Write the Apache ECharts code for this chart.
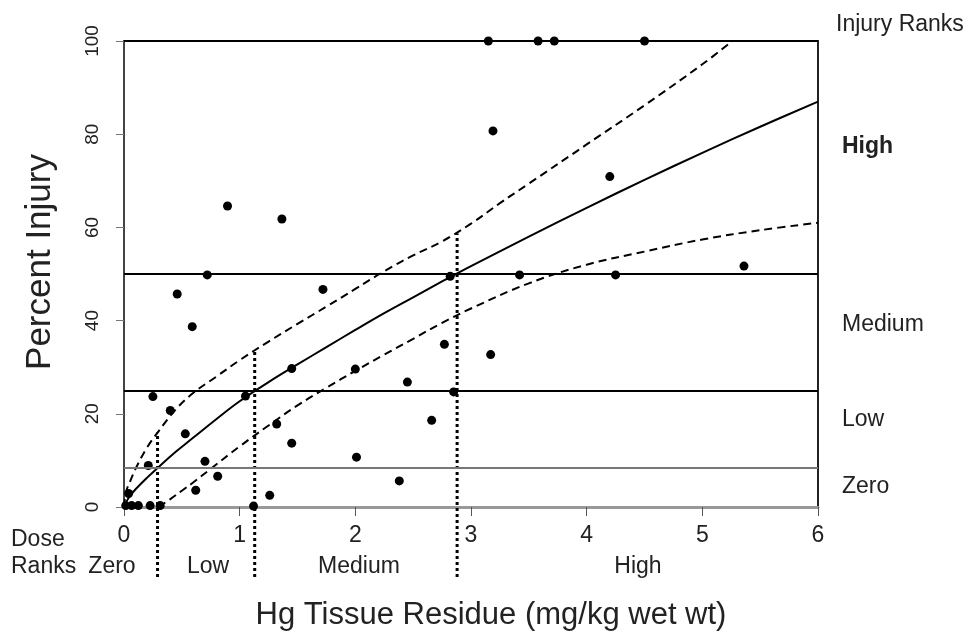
<!DOCTYPE html>
<html>
<head>
<meta charset="utf-8">
<title>Percent Injury vs Hg Tissue Residue</title>
<script src="https://cdn.jsdelivr.net/npm/echarts@6/dist/echarts.min.js"></script>
<style>
  html, body { margin: 0; padding: 0; background: #fff; }
  #chart { width: 969px; height: 641px; }
</style>
</head>
<body>
<div id="chart"></div>
<script>
// observed fish: Hg residue (x) and percent injury (y)
const doseX = [3.15, 3.58, 3.72, 4.50, 3.19, 4.20, 0.895, 1.365, 5.36, 2.82,
  3.42, 4.25, 0.72, 1.72, 0.46, 0.59, 2.77, 3.17, 1.45, 2.00,
  2.45, 2.85, 0.25, 1.05, 0.40, 2.66, 1.32, 0.53, 1.45, 2.01,
  0.21, 0.70, 0.81, 0.62, 2.38, 1.26, 0.04, 0.015, 0.066, 0.124,
  0.226, 0.313, 1.12]
const injuryY = [100, 100, 100, 100, 80.7, 70.9, 64.6, 61.8, 51.7, 49.5,
  49.8, 49.8, 49.8, 46.7, 45.7, 38.7, 34.9, 32.7, 29.7, 29.6,
  26.8, 24.7, 23.7, 23.8, 20.7, 18.6, 17.8, 15.7, 13.7, 10.7,
  8.9, 9.8, 6.6, 3.6, 5.6, 2.5, 2.9, 0.3, 0.3, 0.3,
  0.3, 0.3, 0.2]

// fitted curve and its confidence bounds
const fitX = [0, 0.02, 0.05, 0.1, 0.2, 0.3, 0.45, 0.6, 0.8, 1.0, 1.25, 1.5, 1.75, 2.0, 2.25, 2.5, 2.75, 3.0, 3.5, 4.0, 4.5, 5.0, 5.5, 6.0]
const fitY = [0, 1.1, 2.3, 3.8, 6.3, 8.6, 11.9, 14.9, 18.9, 22.7, 26.8, 30.6, 34.3, 38, 41.6, 45, 48.4, 51.7, 58, 64.2, 70.2, 76, 81.6, 87]
const upperX = [0, 0.02, 0.05, 0.1, 0.2, 0.3, 0.45, 0.6, 0.8, 1.0, 1.25, 1.5, 1.75, 2.0, 2.25, 2.5, 2.75, 3.0, 3.25, 3.5, 4.0, 4.5, 5.0, 5.26]
const upperY = [0, 3.4, 5.3, 8.2, 12.8, 16.3, 21, 24.5, 28, 31.5, 35.5, 39.3, 43, 46.8, 50.6, 54, 57, 60.8, 65.2, 69.4, 77.8, 86.2, 95, 100]
const lowerX = [0.3, 0.4, 0.5, 0.6, 0.75, 1.0, 1.25, 1.5, 1.75, 2.0, 2.25, 2.5, 2.75, 3.0, 3.5, 4.0, 4.5, 5.0, 5.5, 6.0]
const lowerY = [0, 1.7, 3.5, 5.3, 8.2, 13, 17.5, 21.8, 25.6, 29.2, 32.7, 36.1, 39.5, 42.6, 48, 52, 54.8, 57.4, 59.4, 61]

// rank boundaries
const injuryCuts = [8.5, 25, 50, 100]
const doseCuts = [0.29, 1.13, 2.88]
const doseCutTops = [16, 33.6, 58.7]
const doseCutBottom = -15

const injuryRanks = ['High', 'Medium', 'Low', 'Zero']
const doseRanks = ['Zero', 'Low', 'Medium', 'High']

const zip = (xs, ys) => xs.map((x, i) => [x, ys[i]])

const chart = echarts.init(document.getElementById('chart'))

const FONT = '"Liberation Sans", Arial, Helvetica, sans-serif'
const INK = '#000'

const curveSeries = (name, xs, ys, type) => ({
  name,
  type: 'line',
  data: zip(xs, ys),
  smooth: 0.4,
  showSymbol: false,
  silent: true,
  lineStyle: { color: INK, width: 2, type }
})

const cutSeries = doseCuts.map((x, i) => ({
  name: 'dose cut ' + (i + 1),
  type: 'line',
  data: [[x, doseCutBottom], [x, doseCutTops[i]]],
  showSymbol: false,
  clip: false,
  silent: true,
  lineStyle: { color: INK, width: 3, type: [3, 3] }
}))

// right hand rank labels and bottom rank labels
const rightLabelY = [147, 325, 420, 487]
const bottomLabelX = [112, 208, 359, 638]

const textEl = (text, x, y, opts = {}) => ({
  type: 'text',
  x,
  y,
  silent: true,
  style: {
    text,
    fill: '#222',
    font: (opts.weight || 'normal') + ' ' + (opts.size || 22) + 'px ' + FONT,
    textAlign: opts.align || 'left',
    align: opts.align || 'left',
    textVerticalAlign: 'middle',
    verticalAlign: 'middle'
  }
})

const graphics = [
  textEl('Injury Ranks', 836, 25, { size: 23 }),
  ...injuryRanks.map((t, i) => textEl(t, 842, rightLabelY[i], { size: 23, weight: i === 0 ? 'bold' : 'normal' })),
  textEl('Dose', 11, 540, { size: 23 }),
  textEl('Ranks', 11, 567, { size: 23 }),
  ...doseRanks.map((t, i) => textEl(t, bottomLabelX[i], 567, { align: 'center', size: 23 }))
]

const option = {
  animation: false,
  backgroundColor: '#fff',
  grid: {
    left: 124,
    right: 151,
    top: 41,
    bottom: 134,
    show: true,
    borderColor: '#222',
    borderWidth: 2
  },
  xAxis: {
    type: 'value',
    min: 0,
    max: 6,
    interval: 1,
    name: 'Hg Tissue Residue (mg/kg wet wt)',
    nameLocation: 'middle',
    nameGap: 93,
    nameTextStyle: { fontFamily: FONT, fontSize: 31, color: '#222', padding: [0, 0, 0, 40] },
    axisLine: { onZero: false, lineStyle: { color: '#999', width: 3 } },
    axisTick: { length: 9, lineStyle: { color: '#555' } },
    axisLabel: { fontFamily: FONT, fontSize: 23, color: '#222', margin: 17 },
    splitLine: { show: false }
  },
  yAxis: {
    type: 'value',
    min: 0,
    max: 100,
    interval: 20,
    name: 'Percent Injury',
    nameLocation: 'middle',
    nameGap: 66,
    nameTextStyle: { fontFamily: FONT, fontSize: 35, color: '#222', padding: [0, 0, 0, 24] },
    axisLine: { lineStyle: { color: '#444', width: 2 } },
    axisTick: { length: 8, lineStyle: { color: '#777' } },
    axisLabel: { fontFamily: FONT, fontSize: 19, color: '#222', rotate: 90, margin: 22 },
    splitLine: { show: false }
  },
  graphic: graphics,
  series: [
    {
      name: 'rank lines',
      type: 'line',
      data: [],
      silent: true,
      markLine: {
        silent: true,
        symbol: 'none',
        label: { show: false },
        data: injuryCuts.map((v, i) => ({
          yAxis: v,
          lineStyle: { color: i === 0 ? '#777' : INK, width: 2, type: 'solid' }
        }))
      }
    },
    curveSeries('fit', fitX, fitY, 'solid'),
    curveSeries('upper', upperX, upperY, [8, 5]),
    curveSeries('lower', lowerX, lowerY, [8, 5]),
    ...cutSeries,
    {
      name: 'observed',
      type: 'scatter',
      data: zip(doseX, injuryY),
      symbolSize: 9,
      clip: false,
      itemStyle: { color: INK, opacity: 1 }
    }
  ]
}

chart.setOption(option)
</script>
</body>
</html>
